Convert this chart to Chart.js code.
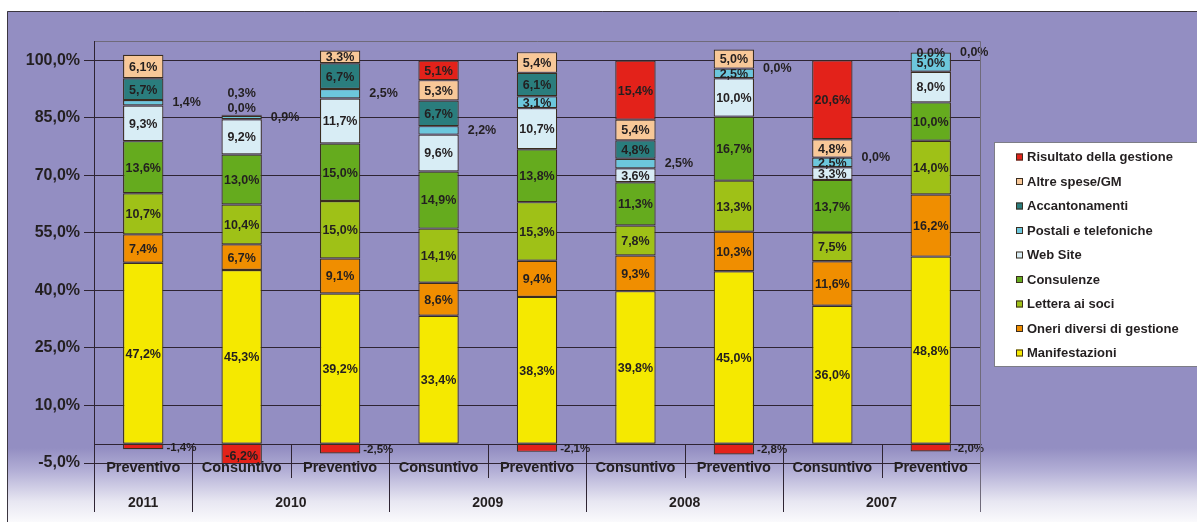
<!DOCTYPE html>
<html>
<head>
<meta charset="utf-8">
<script src="https://cdn.jsdelivr.net/npm/chart.js@4/dist/chart.umd.min.js"></script>
<style>
  body { margin: 0; background: #fff; }
  #wrap { width: 1197px; height: 522px; position: relative; }
</style>
</head>
<body>
<div id="wrap"><canvas id="c"></canvas></div>
<script>
const bilanci = ["Preventivo", "Consuntivo", "Preventivo", "Consuntivo", "Preventivo", "Consuntivo", "Preventivo", "Consuntivo", "Preventivo"];
const anni = ["2011", "2010", "2010", "2009", "2009", "2008", "2008", "2007", "2007"];
const yTicks = [-5, 10, 25, 40, 55, 70, 85, 100];

const manifestazioni = [47.2, 45.3, 39.2, 33.4, 38.3, 39.8, 45.0, 36.0, 48.8];
const oneri = [7.4, 6.7, 9.1, 8.6, 9.4, 9.3, 10.3, 11.6, 16.2];
const lettera = [10.7, 10.4, 15.0, 14.1, 15.3, 7.8, 13.3, 7.5, 14.0];
const consulenze = [13.6, 13.0, 15.0, 14.9, 13.8, 11.3, 16.7, 13.7, 10.0];
const webSite = [9.3, 9.2, 11.7, 9.6, 10.7, 3.6, 10.0, 3.3, 8.0];
const postali = [1.4, 0.9, 2.5, 2.2, 3.1, 2.5, 2.5, 2.5, 5.0];
const accantonamenti = [5.7, 0.0, 6.7, 6.7, 6.1, 4.8, 0.0, 0.0, 0.0];
const altreSpese = [6.1, 0.3, 3.3, 5.3, 5.4, 5.4, 5.0, 4.8, 0.0];
const risultato = [-1.4, -6.2, -2.5, 5.1, -2.1, 15.4, -2.8, 20.6, -2.0];

const FONT = '"Liberation Sans", Arial, sans-serif';
const INK = "#231f20";
Chart.defaults.font.family = FONT;

// labels that don't fit inside their segment: put right of the bar, or lift them up
const labelPos = {
  "5:0": "right", "5:1": "right", "5:2": "right", "5:3": "right", "5:5": "right",
  "6:1": { up: 7 }, "6:6": "right", "6:7": "right", "6:8": "right",
  "7:1": { up: 21 },
  "8:0": "right", "8:2": "right", "8:4": "right", "8:6": "right", "8:8": "right"
};

const pct = (v) => v.toFixed(1).replace(".", ",") + "%";

const sfondo = {
  id: "sfondo",
  beforeDraw(chart) {
    const ctx = chart.ctx;
    ctx.save();
    ctx.fillStyle = "#fff";
    ctx.fillRect(0, 0, chart.width, chart.height);
    const g = ctx.createLinearGradient(0, 11, 0, 522);
    g.addColorStop(0, "#938ec2");
    g.addColorStop(0.855, "#938ec2");
    g.addColorStop(0.9, "#b3afd6");
    g.addColorStop(0.96, "#e8e7f2");
    g.addColorStop(1, "#fafafc");
    ctx.fillStyle = g;
    ctx.fillRect(7, 11, chart.width - 7, chart.height - 11);
    ctx.strokeStyle = "#3b3640";
    ctx.lineWidth = 1;
    ctx.beginPath();
    ctx.moveTo(7.5, chart.height);
    ctx.lineTo(7.5, 11.5);
    ctx.lineTo(chart.width, 11.5);
    ctx.stroke();
    ctx.restore();
  },
  beforeDatasetsDraw(chart) {
    //axis line at 0%
    const { ctx, chartArea } = chart;
    const y0 = Math.round(chart.scales.y.getPixelForValue(0)) + 0.5;
    ctx.save();
    ctx.strokeStyle = "#2e2433";
    ctx.lineWidth = 1;
    ctx.beginPath();
    ctx.moveTo(chartArea.left, y0);
    ctx.lineTo(chartArea.right, y0);
    ctx.stroke();
    ctx.restore();
  }
};

const etichette = {
  id: "etichette",
  afterDatasetsDraw(chart) {
    const ctx = chart.ctx;
    ctx.save();
    ctx.fillStyle = INK;
    ctx.textBaseline = "middle";
    chart.data.datasets.forEach((ds, i) => {
      const meta = chart.getDatasetMeta(i);
      meta.data.forEach((bar, j) => {
        const v = ds.data[j];
        const pos = labelPos[i + ":" + j];
        const top = Math.min(bar.y, bar.base);
        const cy = (bar.y + bar.base) / 2;
        if (pos === "right") {
          ctx.textAlign = "left";
          if (v < 0) {
            ctx.font = "bold 11.5px " + FONT;
            ctx.fillText(pct(v), bar.x + bar.width / 2 + 3, cy + 1);
          } else {
            ctx.font = "bold 12.5px " + FONT;
            ctx.fillText(pct(v), bar.x + bar.width / 2 + 9, cy);
          }
        } else if (pos && pos.up) {
          ctx.textAlign = "center";
          ctx.font = "bold 12.5px " + FONT;
          ctx.fillText(pct(v), bar.x, top - pos.up);
        } else {
          ctx.textAlign = "center";
          ctx.font = "bold 12.5px " + FONT;
          ctx.fillText(pct(v), bar.x, cy + 1);
        }
      });
    });
    ctx.restore();
  }
};

const assi = {
  id: "assi",
  afterDraw(chart) {
    const { ctx, chartArea } = chart;
    const { left, right, top } = chartArea;
    const y0 = Math.round(chart.scales.y.getPixelForValue(0)) + 0.5;
    const step = (right - left) / bilanci.length;
    ctx.save();
    //plot frame
    ctx.strokeStyle = "#6f6a7a";
    ctx.lineWidth = 1;
    ctx.beginPath();
    ctx.moveTo(left, top + 0.5);
    ctx.lineTo(right + 0.5, top + 0.5);
    ctx.lineTo(right + 0.5, 512);
    ctx.stroke();

    //category separators, long ones between years
    ctx.strokeStyle = "#2e2433";
    for (let k = 0; k < bilanci.length; k++) {
      const x = Math.round(left + k * step) + 0.5;
      const full = k === 0 || anni[k] !== anni[k - 1];
      ctx.beginPath();
      ctx.moveTo(x, k === 0 ? top : y0);
      ctx.lineTo(x, full ? 512 : 478);
      ctx.stroke();
    }

    ctx.fillStyle = INK;
    ctx.textAlign = "center";
    ctx.textBaseline = "middle";
    ctx.font = "bold 14.5px " + FONT;
    bilanci.forEach((b, k) => ctx.fillText(b, left + (k + 0.5) * step, 468));

    ctx.font = "bold 14px " + FONT;
    let k = 0;
    while (k < anni.length) {
      let e = k;
      while (e + 1 < anni.length && anni[e + 1] === anni[k]) e++;
      ctx.fillText(anni[k], left + ((k + e + 1) / 2) * step, 503);
      k = e + 1;
    }

    //legend box
    ctx.fillStyle = "#fff";
    ctx.fillRect(994, 142, 210, 224);
    ctx.strokeStyle = "#7d7d86";
    ctx.strokeRect(994.5, 142.5, 210, 224);
    ctx.font = "bold 13px " + FONT;
    ctx.textAlign = "left";
    const items = chart.data.datasets.slice().reverse();
    items.forEach((ds, n) => {
      const y = 157.5 + n * 24.5;
      ctx.fillStyle = ds.backgroundColor;
      ctx.fillRect(1016, y - 4, 7, 7);
      ctx.strokeStyle = "#3a2d20";
      ctx.strokeRect(1016.5, y - 3.5, 6, 6);
      ctx.fillStyle = INK;
      ctx.fillText(ds.label, 1027, y);
    });
    ctx.restore();
  }
};

const serie = [
  ["Manifestazioni", manifestazioni, "#f5e900"],
  ["Oneri diversi di gestione", oneri, "#f08e00"],
  ["Lettera ai soci", lettera, "#9fc117"],
  ["Consulenze", consulenze, "#65ab1e"],
  ["Web Site", webSite, "#d8edf5"],
  ["Postali e telefoniche", postali, "#6cc7dc"],
  ["Accantonamenti", accantonamenti, "#2a7d7d"],
  ["Altre spese/GM", altreSpese, "#f8c898"],
  ["Risultato della gestione", risultato, "#e3221a"]
];

new Chart(document.getElementById("c"), {
  type: "bar",
  data: {
    labels: bilanci,
    datasets: serie.map(([label, data, color]) => ({
      label,
      data,
      backgroundColor: color,
      borderColor: "#3a2d20",
      borderWidth: 1.2,
      borderSkipped: false,
      barPercentage: 0.41,
      categoryPercentage: 1
    }))
  },
  options: {
    responsive: true,
    maintainAspectRatio: false,
    animation: false,
    layout: { padding: { top: 41, right: 217, bottom: 59, left: 0 } },
    plugins: {
      legend: { display: false },
      tooltip: { enabled: false }
    },
    scales: {
      x: { stacked: true, display: false },
      y: {
        stacked: true,
        min: -5,
        max: 105,
        afterBuildTicks: (s) => { s.ticks = yTicks.map((v) => ({ value: v })); },
        afterFit: (s) => { s.width = 94; },
        grid: { color: "#2e2433", lineWidth: 1, tickLength: 10 },
        border: { display: true, color: "#2e2433", width: 1 },
        ticks: {
          padding: 4,
          color: INK,
          font: { size: 16, weight: "bold" },
          callback: (v) => pct(v)
        }
      }
    }
  },
  plugins: [sfondo, etichette, assi]
});
</script>
</body>
</html>
